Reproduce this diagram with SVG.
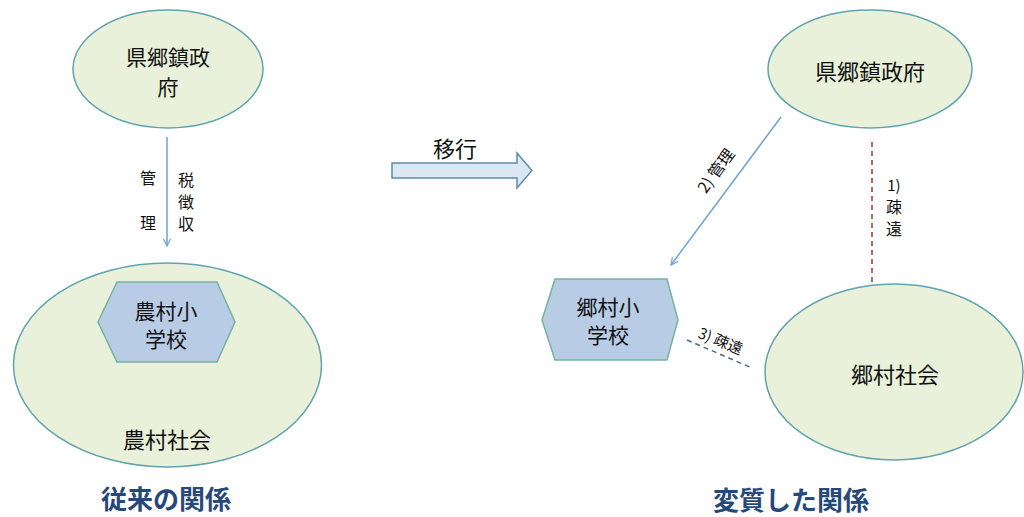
<svg xmlns="http://www.w3.org/2000/svg" width="1024" height="517" viewBox="0 0 1024 517">
<defs>
<style>
.ell{fill:#e9f1da;stroke:#5fa3b0;stroke-width:1.5}
.hex{fill:#b9cce6;stroke:#74b39c;stroke-width:1.5}
text{font-family:"Noto Sans CJK JP","Noto Sans CJK SC",sans-serif;fill:#111;text-anchor:middle;dominant-baseline:central}
.t{font-size:22px}
.h{font-size:21px}
.s{font-size:16px}
.title{font-size:26px;font-weight:bold;fill:#27497a}
.arr{stroke:#6ea3d6;stroke-width:1.5;fill:none}
</style>
<marker id="ah" viewBox="0 0 10 10" refX="9" refY="5" markerWidth="9" markerHeight="9" orient="auto-start-reverse" markerUnits="userSpaceOnUse">
<path d="M1,1 L9,5 L1,9" fill="none" stroke="#6ea3d6" stroke-width="1.3"/>
</marker>
</defs>
<rect width="1024" height="517" fill="#ffffff"/>

<g id="connectors">
<line class="arr" x1="167" y1="137" x2="167" y2="246" marker-end="url(#ah)"/>
<line class="arr" x1="167" y1="370" x2="167" y2="409" marker-start="url(#ah)" marker-end="url(#ah)"/>
<line class="arr" x1="781" y1="117" x2="671" y2="265" marker-end="url(#ah)"/>
<line x1="872" y1="142" x2="872" y2="283" stroke="#9a3a32" stroke-width="1.5" stroke-dasharray="5,4"/>
<line x1="687" y1="340" x2="752" y2="368" stroke="#4c6b8a" stroke-width="1.5" stroke-dasharray="5,4"/>
<text class="s" x="148" y="177">管</text>
<text class="s" x="148" y="222">理</text>
<text class="s" x="186" y="179">税</text>
<text class="s" x="186" y="201">徴</text>
<text class="s" x="186" y="223">収</text>
<text class="s" x="195" y="397">共生</text>
<text class="s" x="715" y="170" transform="rotate(-54 715 170)">2) 管理</text>
<text class="s" x="894" y="184" style="font-size:15px">1)</text>
<text class="s" x="894" y="206">疎</text>
<text class="s" x="894" y="228">遠</text>
<text class="s" x="721" y="340" transform="rotate(22 721 340)" style="font-size:15px">3) 疎遠</text>
</g>

<g id="gov-left">
<ellipse class="ell" cx="168" cy="69" rx="95" ry="59"/>
<text class="h" x="168" y="56">県郷鎮政</text>
<text class="h" x="168" y="86">府</text>
</g>

<g id="community-left">
<ellipse class="ell" cx="167.5" cy="365" rx="154" ry="102"/>
<text class="t" x="167" y="438">農村社会</text>
</g>

<g id="school-left">
<polygon class="hex" points="117,282 217,282 235,322 217,362 117,362 98,322"/>
<text class="h" x="166" y="310">農村小</text>
<text class="h" x="166" y="338">学校</text>
</g>

<g id="shift-arrow">
<polygon points="392,163 517,163 517,153 532,170.5 517,188 517,178 392,178" fill="#dde7f3" stroke="#5a8ea6" stroke-width="1.5"/>
<text class="t" x="455" y="147">移行</text>
</g>

<g id="gov-right">
<ellipse class="ell" cx="870" cy="69" rx="102" ry="59"/>
<text class="t" x="870" y="70">県郷鎮政府</text>
</g>

<g id="community-right">
<ellipse class="ell" cx="894" cy="372" rx="129" ry="88"/>
<text class="t" x="895" y="373">郷村社会</text>
</g>

<g id="school-right">
<polygon class="hex" points="555,279 667,279 678,320 667,360 555,360 542,320"/>
<text class="h" x="608" y="306">郷村小</text>
<text class="h" x="608" y="334">学校</text>
</g>

<text class="title" x="166" y="497">従来の関係</text>
<text class="title" x="791" y="498">変質した関係</text>
</svg>
